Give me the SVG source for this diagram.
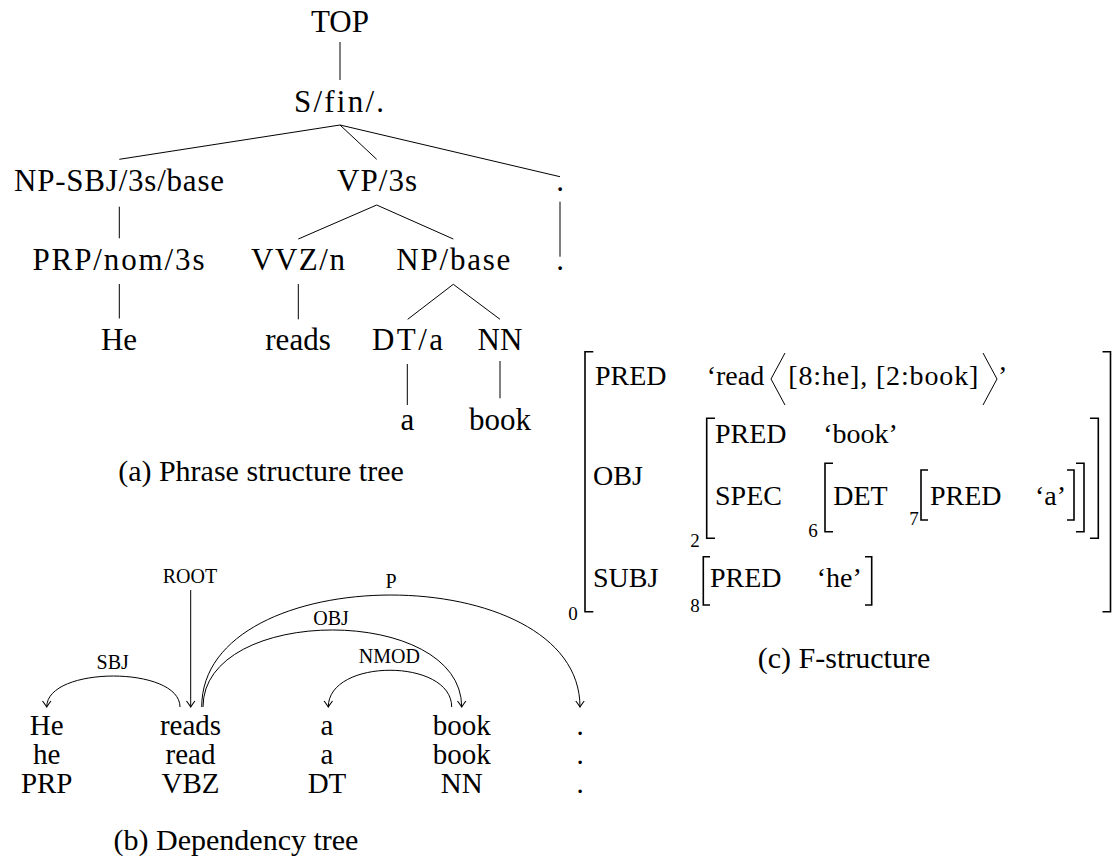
<svg xmlns="http://www.w3.org/2000/svg" width="1112" height="867" viewBox="0 0 1112 867" font-family="'Liberation Serif', 'DejaVu Serif', serif">
<style>
text{font-family:'Liberation Serif','DejaVu Serif',serif;fill:#000}
.t{font-size:31px;text-anchor:middle}
.cap{font-size:30px;text-anchor:middle}
.d{font-size:29px;text-anchor:middle}
.l{font-size:20px;text-anchor:middle}
.f{font-size:28px}
.s{font-size:19px;text-anchor:middle}
.ln{stroke:#000;stroke-width:1;fill:none}
.br{stroke:#000;stroke-width:1.6;fill:none}
.arc{stroke:#000;stroke-width:1;fill:none;marker-end:url(#arr)}
</style>
<defs>
<marker id="arr" markerUnits="userSpaceOnUse" viewBox="-7 -6 8 12" refX="0" refY="0" markerWidth="8" markerHeight="12" orient="auto">
<path d="M-6,-4.2 Q-1.6,-0.9 0,0 Q-1.6,0.9 -6,4.2" fill="none" stroke="#000" stroke-width="1.1"/>
</marker>
</defs>
<rect width="1112" height="867" fill="#fff"/>

<!-- (a) Phrase structure tree -->
<g id="ps-connectors">
<line class="ln" x1="340" y1="42" x2="340" y2="80"/>
<line class="ln" x1="340" y1="125" x2="119.3" y2="159.3"/>
<line class="ln" x1="340" y1="125" x2="376.7" y2="159.3"/>
<line class="ln" x1="340" y1="125" x2="560" y2="176.7"/>
<line class="ln" x1="119.3" y1="206.7" x2="119.3" y2="238.3"/>
<line class="ln" x1="376.7" y1="205" x2="298.3" y2="239"/>
<line class="ln" x1="376.7" y1="205" x2="453.3" y2="239"/>
<line class="ln" x1="560" y1="201.7" x2="560" y2="256.7"/>
<line class="ln" x1="119.3" y1="284" x2="119.3" y2="318.5"/>
<line class="ln" x1="298.3" y1="284" x2="298.3" y2="319.3"/>
<line class="ln" x1="453.3" y1="284.3" x2="407.7" y2="319.3"/>
<line class="ln" x1="453.3" y1="284.3" x2="500" y2="319.3"/>
<line class="ln" x1="407.3" y1="364" x2="407.3" y2="405"/>
<line class="ln" x1="500" y1="361" x2="500" y2="398.3"/>
</g>
<g id="ps-top"><text class="t" x="340" y="32">TOP</text></g>
<g id="ps-s"><text class="t" x="339" y="112" textLength="90">S/fin/.</text></g>
<g id="ps-npsbj"><text class="t" x="119" y="191" textLength="210">NP-SBJ/3s/base</text></g>
<g id="ps-vp"><text class="t" x="377" y="191" textLength="80">VP/3s</text></g>
<g id="ps-pt1"><text class="t" x="560" y="191">.</text></g>
<g id="ps-prp"><text class="t" x="118.5" y="270" textLength="172">PRP/nom/3s</text></g>
<g id="ps-vvz"><text class="t" x="298" y="270" textLength="94">VVZ/n</text></g>
<g id="ps-np"><text class="t" x="453.3" y="270" textLength="114">NP/base</text></g>
<g id="ps-pt2"><text class="t" x="560" y="270">.</text></g>
<g id="ps-he"><text class="t" x="119" y="350">He</text></g>
<g id="ps-reads"><text class="t" x="298" y="350">reads</text></g>
<g id="ps-dt"><text class="t" x="407.5" y="350" textLength="71">DT/a</text></g>
<g id="ps-nn"><text class="t" x="500" y="350">NN</text></g>
<g id="ps-a"><text class="t" x="407.5" y="430">a</text></g>
<g id="ps-book"><text class="t" x="500" y="430">book</text></g>
<g id="cap-a"><text class="cap" x="261" y="481">(a) Phrase structure tree</text></g>

<!-- (b) Dependency tree -->
<g id="dep-connectors">
<line class="arc" x1="190.7" y1="590" x2="190.7" y2="707"/>
<path class="arc" d="M180,707 C180,665.7 46.7,665.7 46.7,707"/>
<path class="arc" d="M201.7,707 C201.7,557.7 580,557.7 580,707"/>
<path class="arc" d="M203,707 C203,604.3 461.7,604.3 461.7,707"/>
<path class="arc" d="M451.7,707 C451.7,658 328.3,658 328.3,707"/>
<text class="l" x="190" y="583">ROOT</text>
<text class="l" x="112.7" y="669">SBJ</text>
<text class="l" x="391" y="588">P</text>
<text class="l" x="331" y="625">OBJ</text>
<text class="l" x="389.3" y="663">NMOD</text>
</g>
<g id="dep-w1"><text class="d" x="46.7" y="735">He</text><text class="d" x="46.7" y="764">he</text><text class="d" x="46.7" y="793">PRP</text></g>
<g id="dep-w2"><text class="d" x="190.5" y="735">reads</text><text class="d" x="190.5" y="764">read</text><text class="d" x="190.5" y="793">VBZ</text></g>
<g id="dep-w3"><text class="d" x="327" y="735">a</text><text class="d" x="327" y="764">a</text><text class="d" x="327" y="793">DT</text></g>
<g id="dep-w4"><text class="d" x="461.7" y="735">book</text><text class="d" x="461.7" y="764">book</text><text class="d" x="461.7" y="793">NN</text></g>
<g id="dep-w5"><text class="d" x="580" y="735">.</text><text class="d" x="580" y="764">.</text><text class="d" x="580" y="793">.</text></g>
<g id="cap-b"><text class="cap" x="236" y="850">(b) Dependency tree</text></g>

<!-- (c) F-structure -->
<g id="fs-0">
<path class="br" d="M593.3,351.7 H585 V611.7 H593.3"/>
<path class="br" d="M1102.5,351.7 H1110.5 V611.7 H1102.5"/>
<text class="s" x="573" y="620">0</text>
<text class="f" x="595" y="385">PRED</text>
<text class="f" x="706.7" y="385">‘read</text>
<polyline class="ln" points="785,353 771,379 785,405"/>
<text class="f" x="788.3" y="385" textLength="190">[8:he], [2:book]</text>
<polyline class="ln" points="983,353 997,379 983,405"/>
<text class="f" x="998" y="385">’</text>
<text class="f" x="593" y="485">OBJ</text>
<text class="f" x="593" y="586.7">SUBJ</text>
</g>
<g id="fs-2">
<path class="br" d="M715,418.3 H706.7 V538.3 H715"/>
<path class="br" d="M1090,418.3 H1098.3 V538.3 H1090"/>
<text class="s" x="695" y="546.7">2</text>
<text class="f" x="715" y="443.3">PRED</text>
<text class="f" x="823.3" y="443.3">‘book’</text>
<text class="f" x="715" y="505">SPEC</text>
</g>
<g id="fs-6">
<path class="br" d="M833,463.3 H825 V531.7 H833"/>
<path class="br" d="M1076,463.3 H1084 V531.7 H1076"/>
<text class="s" x="813" y="536.7">6</text>
<text class="f" x="833.3" y="505">DET</text>
</g>
<g id="fs-7">
<path class="br" d="M928,470 H921 V520 H928"/>
<path class="br" d="M1067,470 H1074 V520 H1067"/>
<text class="s" x="914" y="525">7</text>
<text class="f" x="930" y="505">PRED</text>
<text class="f" x="1035" y="505">‘a’</text>
</g>
<g id="fs-8">
<path class="br" d="M710,556.7 H703.3 V605 H710"/>
<path class="br" d="M865,556.7 H871.7 V605 H865"/>
<text class="s" x="695" y="611.7">8</text>
<text class="f" x="710" y="586.7">PRED</text>
<text class="f" x="816.7" y="586.7">‘he’</text>
</g>
<g id="cap-c"><text class="cap" x="844" y="668">(c) F-structure</text></g>
</svg>
